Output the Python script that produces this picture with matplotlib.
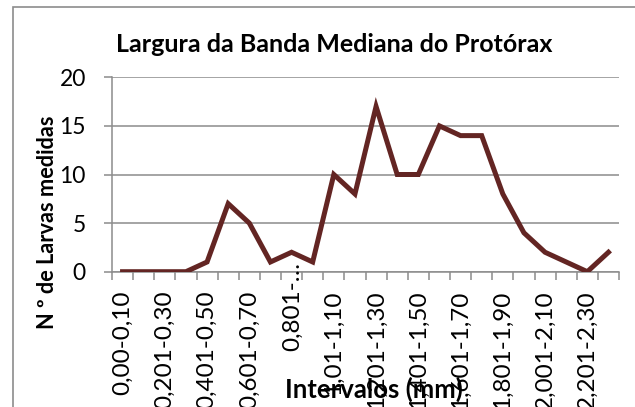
import matplotlib
matplotlib.use('Agg')
import matplotlib.pyplot as plt
import matplotlib.transforms as mtransforms
from matplotlib.patches import Rectangle
import numpy as np

# dados
categorias = ['0,00-0,10', '0,101-0,20', '0,201-0,30', '0,301-0,40',
              '0,401-0,50', '0,501-0,60', '0,601-0,70', '0,701-0,80',
              '0,801-0,90', '0,901-1,00', '1,01-1,10', '1,101-1,20',
              '1,201-1,30', '1,301-1,40', '1,401-1,50', '1,501-1,60',
              '1,601-1,70', '1,701-1,80', '1,801-1,90', '1,901-2,00',
              '2,001-2,10', '2,101-2,20', '2,201-2,30', '2,301-2,40']
larvas = [0, 0, 0, 0, 1, 7, 5, 1, 2, 1, 10, 8, 17, 10, 10, 15, 14, 14,
          8, 4, 2, 1, 0, 2]
# excel mostra so um rotulo a cada dois (e corta o 0,801-0,90)
rotulos_x = ['0,00-0,10', '0,201-0,30', '0,401-0,50', '0,601-0,70',
             '', '1,01-1,10', '1,201-1,30', '1,401-1,50',
             '1,601-1,70', '1,801-1,90', '2,001-2,10', '2,201-2,30']
rotulo_cortado = '0,801-…'
pos_cortado = 8
ticks_y = [0, 5, 10, 15, 20]

titulo = 'Largura da Banda Mediana do Protórax'
nome_x = 'Intervalos (mm)'
nome_y = 'N º de Larvas medidas'

plt.rcParams['font.family'] = ['Lato', 'DejaVu Sans']

W, H = 635, 407
cinza = '#8c8c8c'
fig = plt.figure(figsize=(W/100, H/100), dpi=100)
ax = fig.add_axes([112/W, 1 - 271.7/H, 507/W, 194.4/H])

x = np.arange(len(categorias))
ax.plot(x, larvas, color='#632523', lw=3.6, solid_joinstyle='miter', zorder=4)

#limites e grade
ax.set_xlim(-0.5, len(categorias) - 0.5)
ax.set_ylim(0, 20)
ax.set_yticks(ticks_y)
ax.yaxis.grid(True, color=cinza, lw=1.1, zorder=0)
for s in ['top', 'right']:
    ax.spines[s].set_visible(False)
for s in ['left', 'bottom']:
    ax.spines[s].set_color(cinza)
    ax.spines[s].set_linewidth(1.1)

ax.set_xticks(x[::2])
ax.set_xticks(np.arange(-0.5, len(categorias), 1), minor=True)
ax.tick_params(axis='x', which='major', length=0, pad=13.5, labelsize=17.5)
ax.tick_params(axis='x', which='minor', length=5.8, width=1.1, color=cinza)
ax.tick_params(axis='y', length=5.8, width=1.1, color=cinza, pad=13,
               labelsize=16.5)
ax.set_xticklabels(rotulos_x, rotation=90, va='top')

# rotulo cortado fica mais perto do eixo, como no excel
trans = ax.get_xaxis_transform() + mtransforms.ScaledTranslation(
    1/100, 10/100, fig.dpi_scale_trans)
ax.text(pos_cortado, 0, rotulo_cortado, transform=trans, rotation=90,
        ha='center', va='top', fontsize=17.5, clip_on=False)

#textos
fig.text(334/W, 1 - 51.7/H, titulo, ha='center', va='baseline',
         fontsize=18, fontweight='bold')
fig.text(374/W, 1 - 398/H, nome_x, ha='center', va='baseline',
         fontsize=18.5, fontweight='bold')
fig.text(48/W, 1 - 222/H, nome_y, ha='center', va='center', rotation=90,
         fontsize=15.7, fontweight='bold')

# borda da area do grafico
fig.patches.append(Rectangle((13/W, -0.1), 1.2, 1.1 - 7/H, fill=False,
                             edgecolor=cinza, lw=1.2,
                             transform=fig.transFigure))

fig.savefig('out.png', dpi=100)
